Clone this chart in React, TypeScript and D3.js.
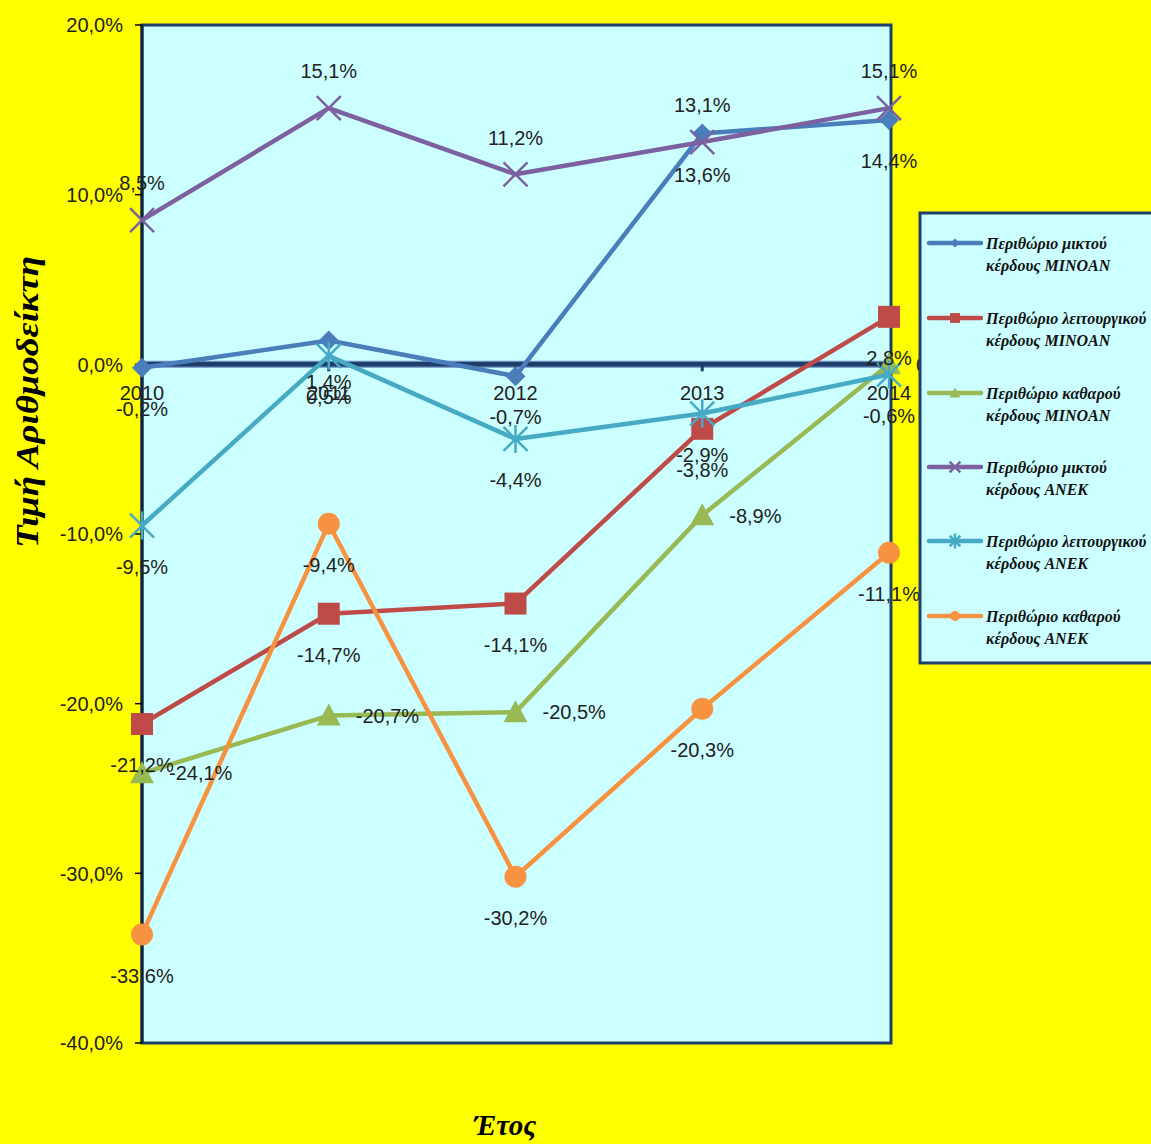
import React from "react";
import * as d3 from "d3";

// Years on the category axis
const years = ["2010", "2011", "2012", "2013", "2014"];

// Margin ratios (%) per company
const grossMinoan = [-0.2, 1.4, -0.7, 13.6, 14.4];
const operatingMinoan = [-21.2, -14.7, -14.1, -3.8, 2.8];
const netMinoan = [-24.1, -20.7, -20.5, -8.9, 0.0];
const grossAnek = [8.5, 15.1, 11.2, 13.1, 15.1];
const operatingAnek = [-9.5, 0.5, -4.4, -2.9, -0.6];
const netAnek = [-33.6, -9.4, -30.2, -20.3, -11.1];

const yTicks = [20, 10, 0, -10, -20, -30, -40];

type Marker = "diamond" | "square" | "triangle" | "x" | "star" | "circle";
type LabelPos = "above" | "below" | "right";

interface Series {
  name: string[];
  values: number[];
  color: string;
  marker: Marker;
  labelPos: LabelPos;
}

const series: Series[] = [
  { name: ["Περιθώριο μικτού", "κέρδους MINOAN"], values: grossMinoan, color: "#4A7EBB", marker: "diamond", labelPos: "below" },
  { name: ["Περιθώριο λειτουργικού", "κέρδους MINOAN"], values: operatingMinoan, color: "#BE4B48", marker: "square", labelPos: "below" },
  { name: ["Περιθώριο καθαρού", "κέρδους MINOAN"], values: netMinoan, color: "#98B954", marker: "triangle", labelPos: "right" },
  { name: ["Περιθώριο μικτού", "κέρδους ANEK"], values: grossAnek, color: "#7D60A0", marker: "x", labelPos: "above" },
  { name: ["Περιθώριο λειτουργικού", "κέρδους ANEK"], values: operatingAnek, color: "#46AAC5", marker: "star", labelPos: "below" },
  { name: ["Περιθώριο καθαρού", "κέρδους ANEK"], values: netAnek, color: "#F69240", marker: "circle", labelPos: "below" },
];

const W = 1151;
const H = 1144;
const plot = { left: 142, right: 889, top: 25, bottom: 1043 };

const fmt = (v: number) => v.toFixed(1).replace(".", ",") + "%";

function MarkerShape({ type, x, y, color, scale = 1 }: { type: Marker; x: number; y: number; color: string; scale?: number }) {
  const s = scale;
  switch (type) {
    case "diamond":
      return <path d={`M${x},${y - 10 * s}L${x + 10 * s},${y}L${x},${y + 10 * s}L${x - 10 * s},${y}Z`} fill={color} />;
    case "square":
      return <rect x={x - 11 * s} y={y - 11 * s} width={22 * s} height={22 * s} fill={color} />;
    case "triangle":
      return <path d={`M${x},${y - 12 * s}L${x + 12 * s},${y + 10 * s}L${x - 12 * s},${y + 10 * s}Z`} fill={color} />;
    case "circle":
      return <circle cx={x} cy={y} r={11 * s} fill={color} />;
    case "x": {
      const r = 12 * s;
      return (
        <path d={`M${x - r},${y - r}L${x + r},${y + r}M${x - r},${y + r}L${x + r},${y - r}`} stroke={color} strokeWidth={2.5} />
      );
    }
    case "star": {
      const r = 12 * s;
      return (
        <path
          d={`M${x - r},${y - r}L${x + r},${y + r}M${x - r},${y + r}L${x + r},${y - r}M${x},${y - r - 2}L${x},${y + r + 2}`}
          stroke={color}
          strokeWidth={2.5}
        />
      );
    }
  }
}

export default function App() {
  const x = d3.scalePoint<string>().domain(years).range([plot.left, plot.right]);
  const y = d3.scaleLinear().domain([-40, 20]).range([plot.bottom, plot.top]);
  const line = d3
    .line<number>()
    .x((_, i) => x(years[i]) as number)
    .y((d) => y(d));

  const labelFont = "'Liberation Sans', Arial, sans-serif";
  const serif = "'Liberation Serif', 'Times New Roman', serif";

  const legendX = 920;
  const legendY = 213;
  const legendRowY = [243, 318, 393, 467, 541, 616];

  return (
    <svg width={W} height={H} style={{ position: "absolute", left: 0, top: 0 }} xmlns="http://www.w3.org/2000/svg">
      <rect x={0} y={0} width={W} height={H} fill="#FFFF00" />
      {/* plot area */}
      <rect
        x={plot.left}
        y={plot.top}
        width={plot.right - plot.left + 2}
        height={plot.bottom - plot.top}
        fill="#CCFFFF"
        stroke="#1F3F6A"
        strokeWidth={3}
      />
      <line x1={plot.left} x2={plot.left} y1={plot.top} y2={plot.bottom} stroke="#0F243E" strokeWidth={3} />

      {/* y ticks */}
      {yTicks.map((t) => (
        <g key={t}>
          <line x1={plot.left - 7} x2={plot.left} y1={y(t)} y2={y(t)} stroke="#000" strokeWidth={1.5} />
          <text x={123} y={y(t)} dy="0.36em" textAnchor="end" fontFamily={labelFont} fontSize={20} fill="#222">
            {fmt(t)}
          </text>
        </g>
      ))}

      {/* zero category axis */}
      <line x1={plot.left} x2={plot.right} y1={y(0)} y2={y(0)} stroke="#6C8EBF" strokeWidth={7} />
      <line x1={plot.left} x2={plot.right} y1={y(0)} y2={y(0)} stroke="#1F3F6A" strokeWidth={4.5} />
      {years.map((yr) => (
        <line key={yr} x1={x(yr)} x2={x(yr)} y1={y(0)} y2={y(0) + 7} stroke="#1F3F6A" strokeWidth={3} />
      ))}
      {years.map((yr) => (
        <text key={"c" + yr} x={x(yr)} y={y(0) + 36} textAnchor="middle" fontFamily={labelFont} fontSize={20} fill="#222">
          {yr}
        </text>
      ))}

      {/* series lines and markers */}
      {series.map((s, si) => (
        <g key={si}>
          <path d={line(s.values) as string} fill="none" stroke={s.color} strokeWidth={4.5} strokeLinejoin="round" />
          {s.values.map((v, i) => (
            <MarkerShape key={i} type={s.marker} x={x(years[i]) as number} y={y(v)} color={s.color} />
          ))}
        </g>
      ))}

      {/* data labels */}
      {series.map((s, si) => (
        <g key={"l" + si}>
          {s.values.map((v, i) => {
            const px = x(years[i]) as number;
            const py = y(v);
            let tx = px;
            let ty = py;
            let anchor: "middle" | "start" = "middle";
            if (s.labelPos === "above") ty = py - 37;
            else if (s.labelPos === "below") ty = py + 41;
            else {
              tx = px + 27;
              anchor = "start";
            }
            return (
              <text key={i} x={tx} y={ty} dy="0.36em" textAnchor={anchor} fontFamily={labelFont} fontSize={20} fill="#222">
                {fmt(v)}
              </text>
            );
          })}
        </g>
      ))}

      {/* legend */}
      <rect x={legendX} y={legendY} width={W - legendX + 10} height={450} fill="#CCFFFF" stroke="#1F3F6A" strokeWidth={3} />
      {series.map((s, si) => {
        const ly = legendRowY[si];
        return (
          <g key={"lg" + si}>
            <line x1={929} x2={981} y1={ly} y2={ly} stroke={s.color} strokeWidth={4.5} strokeLinecap="round" />
            <MarkerShape type={s.marker} x={955} y={ly} color={s.color} scale={0.45} />
            <text x={986} y={ly + 6} fontFamily={serif} fontStyle="italic" fontWeight="bold" fontSize={16} fill="#111">
              {s.name[0]}
            </text>
            <text x={986} y={ly + 28} fontFamily={serif} fontStyle="italic" fontWeight="bold" fontSize={16} fill="#111">
              {s.name[1]}
            </text>
          </g>
        );
      })}

      {/* axis titles */}
      <text
        transform="translate(38,402) rotate(-90)"
        textAnchor="middle"
        fontFamily={serif}
        fontStyle="italic"
        fontWeight="bold"
        fontSize={31}
        textLength={292}
        lengthAdjust="spacingAndGlyphs"
        fill="#000"
      >
        Τιμή Αριθμοδείκτη
      </text>
      <text x={505} y={1135} textAnchor="middle" fontFamily={serif} fontStyle="italic" fontWeight="bold" fontSize={29} fill="#000">
        Έτος
      </text>
    </svg>
  );
}
